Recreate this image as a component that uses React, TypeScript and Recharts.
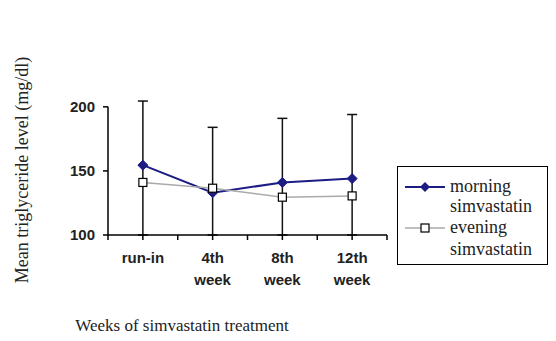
import React from 'react';
import { LineChart, Line, XAxis, YAxis, ErrorBar, ReferenceLine, Legend } from 'recharts';

const weeks = ['run-in', '4th week', '8th week', '12th week'];
const morning = [154.5, 133, 141, 144];
const evening = [141, 136.5, 129.5, 130.5];
const morningSD = [50, 51, 50, 50];
const yTicks = [100, 150, 200];
const xTicks = [0, 0.5, 1, 1.5, 2, 2.5, 3, 3.5, 4];

const NAVY = '#1c1c85';

// bars stop at the axis, the rest is hidden below it like the original
const chartData = weeks.map((w, i) => ({
  pos: i + 0.5,
  week: w,
  morning: morning[i],
  evening: evening[i],
  err: [morning[i] - 100, morningSD[i]],
}));

const XTick = (props: any) => {
  const { x, y, payload } = props;
  const v = payload.value;
  const tick = <line x1={x} x2={x} y1={y} y2={y + 5} stroke="#000" strokeWidth={1.5} />;
  if (Number.isInteger(v)) return tick;
  const lines = weeks[Math.floor(v)].split(' ');
  return (
    <g>
      {tick}
      <text
        x={x}
        y={y + 28}
        textAnchor="middle"
        fontFamily="'Liberation Sans', Arial, sans-serif"
        fontWeight="bold"
        fontSize={15}
        fill="#222"
      >
        {lines.map((l, i) => (
          <tspan key={i} x={x} dy={i ? 22 : 0}>{l}</tspan>
        ))}
      </text>
    </g>
  );
};

const Diamond = (props: any) => {
  const { cx, cy } = props;
  const r = 5;
  return <polygon points={`${cx},${cy - r} ${cx + r},${cy} ${cx},${cy + r} ${cx - r},${cy}`} fill={NAVY} stroke={NAVY} />;
};

const Square = (props: any) => {
  const { cx, cy } = props;
  const s = 8;
  return <rect x={cx - s / 2} y={cy - s / 2} width={s} height={s} fill="#fff" stroke="#000" strokeWidth={1.2} />;
};

const LegendBox = () => (
  <div style={{ border: '1px solid #000', width: 151, height: 99, boxSizing: 'border-box', background: '#fff' }}>
    <svg width={149} height={97} style={{ display: 'block' }}>
      <g fontFamily="'Liberation Serif', 'Times New Roman', serif" fontSize={18} fill="#222">
        <line x1={7} x2={47} y1={20} y2={20} stroke={NAVY} strokeWidth={2} />
        <polygon points="27,15 32,20 27,25 22,20" fill={NAVY} />
        <text x={52} y={25}>morning</text>
        <text x={52} y={45}>simvastatin</text>
        <line x1={7} x2={47} y1={61} y2={61} stroke="#aaa" strokeWidth={1.5} />
        <rect x={23} y={57} width={8} height={8} fill="#fff" stroke="#000" strokeWidth={1.2} />
        <text x={52} y={66}>evening</text>
        <text x={52} y={88}>simvastatin</text>
      </g>
    </svg>
  </div>
);

export default function App() {
  return (
    <div style={{ position: 'absolute', left: 0, top: 0, width: 556, height: 341, background: '#fff' }}>
      <LineChart width={556} height={341} data={chartData} margin={{ top: 94, right: 169, left: 0, bottom: 0 }}>
        <XAxis
          dataKey="pos"
          type="number"
          domain={[0, 4]}
          ticks={xTicks}
          interval={0}
          tickSize={0}
          tickMargin={0}
          tickLine={false}
          tick={<XTick />}
          height={106}
          axisLine={{ stroke: '#000', strokeWidth: 1.5 }}
          label={{
            content: () => (
              <text x={182} y={331} textAnchor="middle" fontFamily="'Liberation Serif', 'Times New Roman', serif" fontSize={17} fill="#222">
                Weeks of simvastatin treatment
              </text>
            ),
          }}
        />
        <YAxis
          type="number"
          domain={[100, 210]}
          ticks={yTicks}
          width={108}
          axisLine={false}
          tickSize={5}
          tickMargin={8}
          tickLine={{ stroke: '#000', strokeWidth: 1.5 }}
          tick={{ fontSize: 15, fontWeight: 'bold', fill: '#222', fontFamily: "'Liberation Sans', Arial, sans-serif" }}
          label={{
            content: () => (
              <text
                x={28}
                y={170}
                textAnchor="middle"
                transform="rotate(-90 28 170)"
                fontFamily="'Liberation Serif', 'Times New Roman', serif"
                fontSize={18}
                fill="#222"
              >
                Mean triglyceride level (mg/dl)
              </text>
            ),
          }}
        />
        <ReferenceLine
          segment={[{ x: 0, y: 100 }, { x: 0, y: 200 }]}
          stroke="#000"
          strokeWidth={1.5}
          ifOverflow="visible"
        />
        <Legend
          content={<LegendBox />}
          layout="horizontal"
          verticalAlign="middle"
          align="center"
          wrapperStyle={{ left: 397, top: 166, width: 151 }}
        />
        <Line
          dataKey="morning"
          stroke={NAVY}
          strokeWidth={2}
          dot={<Diamond />}
          activeDot={false}
          isAnimationActive={false}
        >
          <ErrorBar dataKey="err" direction="y" width={5} stroke="#111" strokeWidth={1.5} />
        </Line>
        <Line
          dataKey="evening"
          stroke="#aaa"
          strokeWidth={1.5}
          dot={<Square />}
          activeDot={false}
          isAnimationActive={false}
        />
      </LineChart>
    </div>
  );
}
